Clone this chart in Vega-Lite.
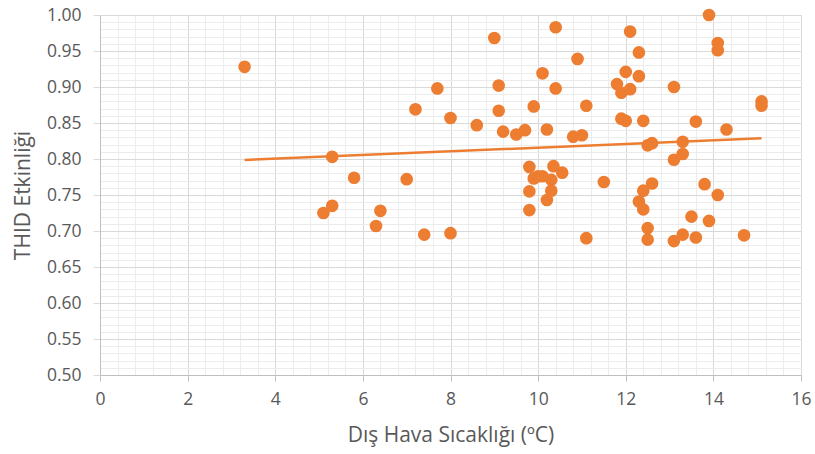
{
  "$schema": "https://vega.github.io/schema/vega-lite/v6.json",
  "width": 701,
  "height": 360,
  "autosize": {"type": "none"},
  "padding": {"left": 100, "top": 15, "right": 14, "bottom": 79},
  "background": "white",
  "config": {
    "view": {"stroke": null},
    "font": "Open Sans",
    "axis": {"labelFont": "Open Sans", "titleFont": "Open Sans", "labelColor": "#595959", "titleColor": "#595959", "labelFontSize": 17.5, "titleFontSize": 21, "titleFontWeight": "normal", "labelFlush": false}
  },
  "data": {
    "values": [
      {"t": 3.3, "e": 0.928}, {"t": 5.3, "e": 0.803}, {"t": 5.8, "e": 0.774}, {"t": 5.3, "e": 0.735},
      {"t": 5.1, "e": 0.725}, {"t": 6.4, "e": 0.728}, {"t": 6.3, "e": 0.707}, {"t": 7.0, "e": 0.772},
      {"t": 7.2, "e": 0.869}, {"t": 7.4, "e": 0.695}, {"t": 7.7, "e": 0.898}, {"t": 8.0, "e": 0.857},
      {"t": 8.0, "e": 0.697}, {"t": 8.6, "e": 0.847}, {"t": 9.0, "e": 0.968}, {"t": 9.1, "e": 0.902},
      {"t": 9.1, "e": 0.867}, {"t": 9.2, "e": 0.838}, {"t": 9.5, "e": 0.834}, {"t": 9.7, "e": 0.840},
      {"t": 9.8, "e": 0.789}, {"t": 9.9, "e": 0.773}, {"t": 9.8, "e": 0.755}, {"t": 9.8, "e": 0.729},
      {"t": 10.0, "e": 0.776}, {"t": 10.1, "e": 0.776}, {"t": 10.35, "e": 0.790}, {"t": 10.55, "e": 0.781},
      {"t": 10.3, "e": 0.771}, {"t": 10.3, "e": 0.756}, {"t": 10.2, "e": 0.743}, {"t": 9.9, "e": 0.873},
      {"t": 10.1, "e": 0.919}, {"t": 10.2, "e": 0.841}, {"t": 10.4, "e": 0.983}, {"t": 10.4, "e": 0.898},
      {"t": 10.9, "e": 0.939}, {"t": 11.1, "e": 0.874}, {"t": 10.8, "e": 0.831}, {"t": 11.0, "e": 0.833},
      {"t": 11.1, "e": 0.690}, {"t": 11.5, "e": 0.768}, {"t": 12.1, "e": 0.977}, {"t": 12.3, "e": 0.948},
      {"t": 12.0, "e": 0.921}, {"t": 12.3, "e": 0.915}, {"t": 11.8, "e": 0.904}, {"t": 11.9, "e": 0.892},
      {"t": 12.1, "e": 0.897}, {"t": 11.9, "e": 0.856}, {"t": 12.0, "e": 0.853}, {"t": 12.4, "e": 0.853},
      {"t": 13.1, "e": 0.900}, {"t": 13.6, "e": 0.852}, {"t": 14.3, "e": 0.841}, {"t": 13.9, "e": 1.000},
      {"t": 14.1, "e": 0.961}, {"t": 14.1, "e": 0.951}, {"t": 15.1, "e": 0.880}, {"t": 15.1, "e": 0.874},
      {"t": 12.5, "e": 0.819}, {"t": 12.6, "e": 0.822}, {"t": 13.3, "e": 0.824}, {"t": 13.3, "e": 0.807},
      {"t": 13.1, "e": 0.799}, {"t": 12.6, "e": 0.766}, {"t": 12.4, "e": 0.756}, {"t": 12.3, "e": 0.741},
      {"t": 12.4, "e": 0.730}, {"t": 12.5, "e": 0.704}, {"t": 12.5, "e": 0.688}, {"t": 13.8, "e": 0.765},
      {"t": 14.1, "e": 0.750}, {"t": 13.5, "e": 0.720}, {"t": 13.9, "e": 0.714}, {"t": 13.1, "e": 0.686},
      {"t": 13.3, "e": 0.695}, {"t": 13.6, "e": 0.691}, {"t": 14.7, "e": 0.694}
    ]
  },
  "resolve": {"axis": {"x": "independent", "y": "independent"}},
  "layer": [
    {
      "mark": {"type": "point", "opacity": 0},
      "encoding": {
        "x": {"field": "t", "type": "quantitative", "scale": {"domain": [0, 16], "nice": false, "zero": false},
          "axis": {"orient": "bottom", "title": null, "labels": false, "ticks": false, "domain": false, "grid": true, "gridColor": "#ececec", "gridWidth": 1,
            "values": [0,0.4,0.8,1.2,1.6,2,2.4,2.8,3.2,3.6,4,4.4,4.8,5.2,5.6,6,6.4,6.8,7.2,7.6,8,8.4,8.8,9.2,9.6,10,10.4,10.8,11.2,11.6,12,12.4,12.8,13.2,13.6,14,14.4,14.8,15.2,15.6,16]}},
        "y": {"field": "e", "type": "quantitative", "scale": {"domain": [0.5, 1.0], "nice": false, "zero": false},
          "axis": {"orient": "left", "title": null, "labels": false, "ticks": false, "domain": false, "grid": true, "gridColor": "#ececec", "gridWidth": 1,
            "values": [0.5,0.51,0.52,0.53,0.54,0.55,0.56,0.57,0.58,0.59,0.6,0.61,0.62,0.63,0.64,0.65,0.66,0.67,0.68,0.69,0.7,0.71,0.72,0.73,0.74,0.75,0.76,0.77,0.78,0.79,0.8,0.81,0.82,0.83,0.84,0.85,0.86,0.87,0.88,0.89,0.9,0.91,0.92,0.93,0.94,0.95,0.96,0.97,0.98,0.99,1.0]}}
      }
    },
    {
      "mark": {"type": "circle", "size": 160, "color": "#ED7D31", "opacity": 1},
      "encoding": {
        "x": {"field": "t", "type": "quantitative",
          "axis": {"orient": "bottom", "title": "Dış Hava Sıcaklığı (ºC)", "values": [0,2,4,6,8,10,12,14,16], "grid": true, "gridColor": "#d9d9d9", "domainColor": "#bfbfbf", "tickColor": "#bfbfbf", "tickSize": 6, "labelPadding": 9, "titlePadding": 17}},
        "y": {"field": "e", "type": "quantitative",
          "axis": {"orient": "left", "title": "THID Etkinliği", "format": ".2f", "values": [0.5,0.55,0.6,0.65,0.7,0.75,0.8,0.85,0.9,0.95,1.0], "grid": true, "gridColor": "#d9d9d9", "domainColor": "#bfbfbf", "tickColor": "#d9d9d9", "tickSize": 7, "labelPadding": 12, "titlePadding": 13}}
      }
    },
    {
      "mark": {"type": "line", "color": "#ED7D31", "strokeWidth": 2.5},
      "transform": [{"regression": "e", "on": "t"}],
      "encoding": {
        "x": {"field": "t", "type": "quantitative", "axis": null},
        "y": {"field": "e", "type": "quantitative", "axis": null}
      }
    }
  ]
}
